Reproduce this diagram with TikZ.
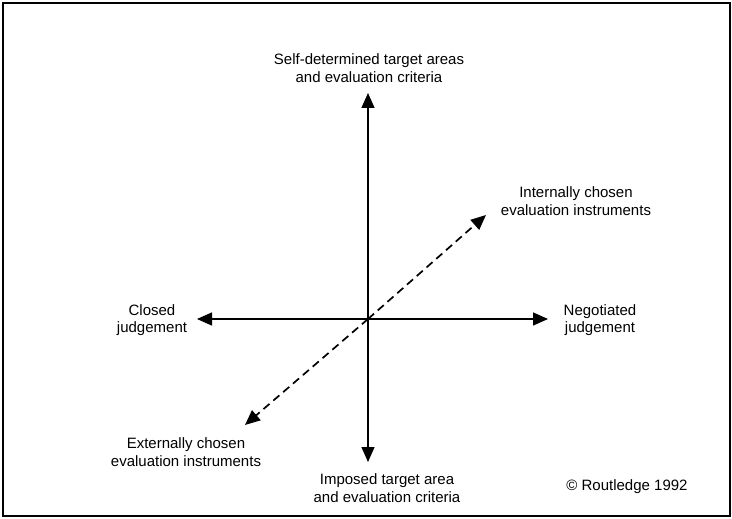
\documentclass[tikz,border=0pt]{standalone}
\usepackage{fontspec}
\setmainfont{Liberation Sans}
\usetikzlibrary{arrows.meta}
\begin{document}
\begin{tikzpicture}[x=1pt,y=-1pt,
  axis/.style={line width=1.4pt,-{Triangle[length=15pt,width=13pt]}},
  dashaxis/.style={axis,line width=1.7pt,dash pattern=on 8pt off 5pt},
  lbl/.style={align=center,font=\fontsize{15}{17.5}\selectfont,inner sep=0pt}]
  \useasboundingbox (0,0) rectangle (732,519);
  % outer frame
  \draw[line width=1.4pt] (3,3) rectangle (730,516);

  % origin and arrow ends
  \coordinate (c) at (368,319);
  \coordinate (top) at (368,93);
  \coordinate (bot) at (368,462);
  \coordinate (lft) at (197,319);
  \coordinate (rgt) at (548,319);
  \coordinate (ur) at (486,215);
  \coordinate (ll) at (245,425);

  \draw[axis] (c) -- (top);
  \draw[axis] (c) -- (bot);
  \draw[axis] (c) -- (lft);
  \draw[axis] (c) -- (rgt);
  \draw[dashaxis] (c) -- (ur);
  \draw[dashaxis] (c) -- (ll);

  % labels
  \node[lbl] (selfdet) at (369,68) {Self-determined target areas\\and evaluation criteria};
  \node[lbl] (imposed) at (387,488) {Imposed target area\\and evaluation criteria};
  \node[lbl] (closed) at (152,320) {Closed\\judgement};
  \node[lbl] (negot) at (600,320) {Negotiated\\judgement};
  \node[lbl] (intern) at (576,201) {Internally chosen\\evaluation instruments};
  \node[lbl] (extern) at (186,452) {Externally chosen\\evaluation instruments};
  \node[lbl] (copy) at (627,487) {© Routledge 1992};
\end{tikzpicture}
\end{document}
